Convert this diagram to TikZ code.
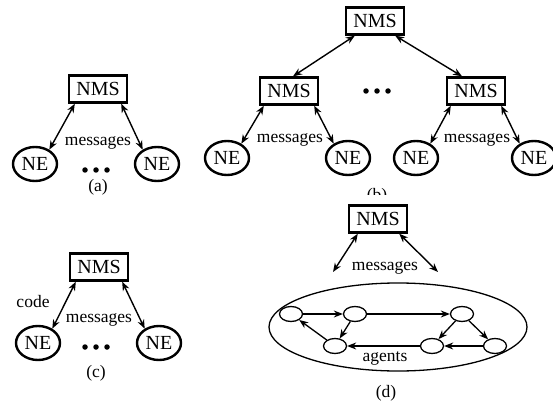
\documentclass[tikz,border=0pt]{standalone}
\usepackage{fontspec}
\setmainfont{Liberation Serif}
\usetikzlibrary{arrows.meta,shapes.geometric}
\begin{document}
\begin{tikzpicture}[x=1pt,y=-1pt,
  nms/.style={draw,line width=2.4pt,fill=white,minimum width=58pt,minimum height=27pt,inner sep=0pt,font=\fontsize{20}{20}\selectfont},
  ne/.style={draw,ellipse,line width=2.4pt,minimum width=44pt,minimum height=34pt,inner sep=0pt,font=\fontsize{20}{20}\selectfont},
  agent/.style={draw,ellipse,line width=1.3pt,minimum width=23pt,minimum height=15pt,inner sep=0pt},
  lbl/.style={inner sep=0pt,font=\fontsize{17.5}{17.5}\selectfont},
  link/.style={line width=1.4pt,{Stealth[length=9pt,width=7pt]}-{Stealth[length=9pt,width=7pt]}},
  flow/.style={line width=1.3pt,-{Stealth[length=9pt,width=7pt]}},
  dot/.style={circle,fill,inner sep=0pt,minimum size=5.5pt}
]
\useasboundingbox[fill=white] (0,0) rectangle (553,403);
% (a)
\node[nms] (nmsa) at (98,89) {NMS};
\node[ne] (nea1) at (35,164) {NE};
\node[ne] (nea2) at (157,164) {NE};
\node[lbl] (msga) at (98,143) {messages};
\node[dot] (da1) at (85,170) {};
\node[dot] (da2) at (96,170) {};
\node[dot] (da3) at (107,170) {};
\node[lbl] (capa) at (98,187) {(a)};
\draw[link] ([xshift=7pt]nmsa.south west) -- (nea1.45);
\draw[link] ([xshift=-7pt]nmsa.south east) -- (nea2.135);
% (b)
\node[nms] (nmsb) at (375,21) {NMS};
\node[nms] (nmsb1) at (289,91) {NMS};
\node[nms] (nmsb2) at (476,91) {NMS};
\node[dot] (db1) at (366,91) {};
\node[dot] (db2) at (377,91) {};
\node[dot] (db3) at (388,91) {};
\node[ne] (neb1) at (227,158) {NE};
\node[ne] (neb2) at (348,158) {NE};
\node[ne] (neb3) at (416,158) {NE};
\node[ne] (neb4) at (534,158) {NE};
\node[lbl] (msgb1) at (290,140) {messages};
\node[lbl] (msgb2) at (477,140) {messages};
\begin{scope}
\clip (340,180) rectangle (420,195);
\node[lbl] (capb) at (377,196) {(b)};
\end{scope}
\draw[link] ([xshift=10pt]nmsb.south west) -- ([xshift=4pt]nmsb1.north);
\draw[link] ([xshift=-10pt]nmsb.south east) -- ([xshift=-14pt]nmsb2.north);
\draw[link] ([xshift=5pt]nmsb1.south west) -- (neb1.45);
\draw[link] ([xshift=-5pt]nmsb1.south east) -- (neb2.135);
\draw[link] ([xshift=5pt]nmsb2.south west) -- (neb3.45);
\draw[link] ([xshift=-5pt]nmsb2.south east) -- (neb4.135);
% (c)
\node[nms] (nmsc) at (99,267) {NMS};
\node[ne] (nec1) at (38,343) {NE};
\node[ne] (nec2) at (159,343) {NE};
\node[lbl] (codec) at (33,302) {code};
\node[lbl] (msgc) at (99,320) {messages};
\node[dot] (dc1) at (85,347) {};
\node[dot] (dc2) at (96,347) {};
\node[dot] (dc3) at (107,347) {};
\node[lbl] (capc) at (96,373) {(c)};
\draw[link] ([xshift=7pt]nmsc.south west) -- (nec1.45);
\draw[link] ([xshift=-7pt]nmsc.south east) -- (nec2.135);
% (d)
\node[nms] (nmsd) at (378,219) {NMS};
\node[lbl] (msgd) at (385,268) {messages};
\coordinate (dl) at (333,272);
\coordinate (dr) at (438,272);
\draw[link] ([xshift=10pt]nmsd.south west) -- (dl);
\draw[link] ([xshift=-9pt]nmsd.south east) -- (dr);
\node[draw,ellipse,line width=1.3pt,minimum width=258pt,minimum height=88pt,inner sep=0pt] (cloud) at (398,327) {};
\node[agent] (c1) at (291,314) {};
\node[agent] (c2) at (355,314) {};
\node[agent] (c3) at (462,314) {};
\node[agent] (c4) at (335,346) {};
\node[agent] (c5) at (432,346) {};
\node[agent] (c6) at (495,346) {};
\draw[flow] (c1) -- (c2);
\draw[flow] (c2) -- (c3);
\draw[flow] (c2) -- (c4);
\draw[flow] (c4) -- (c1);
\draw[flow] (c3) -- (c5);
\draw[flow] (c3) -- (c6);
\draw[flow] (c6) -- (c5);
\draw[flow] (c5) -- (c4);
\node[lbl] (agentsd) at (385,358) {agents};
\node[lbl] (capd) at (386,393) {(d)};
\end{tikzpicture}
\end{document}
